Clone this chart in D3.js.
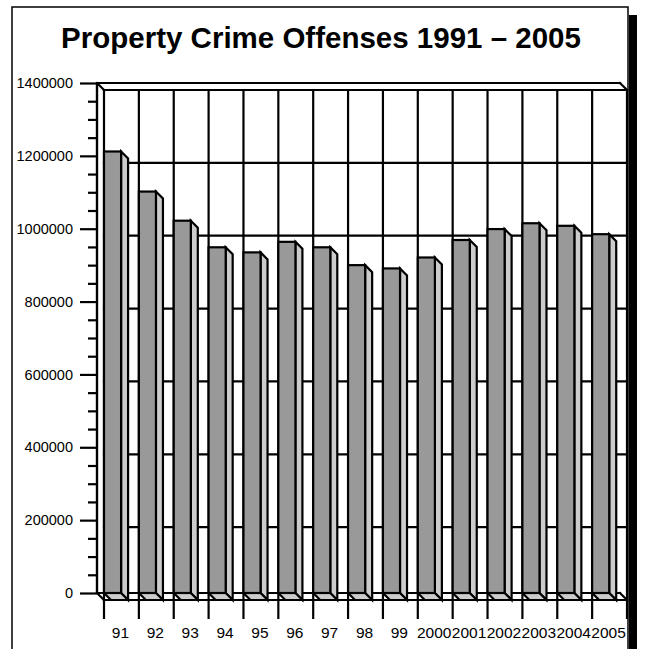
<!DOCTYPE html>
<html>
<head>
<meta charset="utf-8">
<script src="https://cdn.jsdelivr.net/npm/d3@7"></script>
<style>
  html, body { margin: 0; padding: 0; background: #fff; }
  svg { display: block; font-family: "Liberation Sans", Arial, sans-serif; }
</style>
</head>
<body>
<svg id="chart" width="647" height="649"></svg>
<script>
// Property crime offenses by year
const years = ["91","92","93","94","95","96","97","98","99","2000","2001","2002","2003","2004","2005"];
const offenses = [1212000, 1102000, 1022000, 949000, 935000, 964000, 949000, 900000, 891000, 921000, 969000, 999000, 1015000, 1008000, 985000];
const yTicks = [0, 200000, 400000, 600000, 800000, 1000000, 1200000, 1400000];
const titleText = "Property Crime Offenses 1991 \u2013 2005";

const svg = d3.select("#chart");

// plot geometry (front plane) and 3-D depth offset
const plotL = 97, plotR = 620, plotT = 83, plotB = 593;
const depth = 7;

const x = d3.scaleBand().domain(years).range([plotL, plotR]).padding(0);
const y = d3.scaleLinear().domain([0, 1400000]).range([plotB, plotT]);
const bw = x.bandwidth();
const barW = bw * 0.49;

// outer frame
svg.append("rect").attr("x", 12).attr("y", 7).attr("width", 616).attr("height", 660)
  .attr("fill", "#fff").attr("stroke", "#000").attr("stroke-width", 1.5);

// title
svg.append("text").attr("x", 321).attr("y", 48).attr("text-anchor", "middle")
  .attr("font-size", 29.5).attr("font-weight", "bold").text(titleText);

const g = svg.append("g").attr("stroke", "#000").attr("stroke-width", 2.2).attr("fill", "none")
  .attr("stroke-linecap", "square");

// back wall: horizontal gridlines
g.selectAll("line.hgrid").data(yTicks).join("line").attr("class", "hgrid")
  .attr("x1", plotL + depth).attr("x2", plotR + depth)
  .attr("y1", d => y(d) + depth).attr("y2", d => y(d) + depth);

// back wall: vertical gridlines at category boundaries
const bounds = years.map(d => x(d)).concat([plotR]);
g.selectAll("line.vgrid").data(bounds).join("line").attr("class", "vgrid")
  .attr("x1", d => d + depth).attr("x2", d => d + depth)
  .attr("y1", plotT + depth).attr("y2", plotB + depth);

// wall top rim and floor edges
g.append("line").attr("x1", plotL).attr("x2", plotR).attr("y1", plotT).attr("y2", plotT);
g.append("line").attr("x1", plotL).attr("y1", plotT).attr("x2", plotL + depth).attr("y2", plotT + depth);
g.append("line").attr("x1", plotR).attr("y1", plotT).attr("x2", plotR + depth).attr("y2", plotT + depth);
g.append("line").attr("x1", plotL).attr("x2", plotR).attr("y1", plotB).attr("y2", plotB);
g.append("line").attr("x1", plotL).attr("y1", plotB).attr("x2", plotL + depth).attr("y2", plotB + depth);
g.append("line").attr("x1", plotR).attr("y1", plotB).attr("x2", plotR + depth).attr("y2", plotB + depth);

// bars: front face, right side face and underside
const bars = svg.append("g").attr("stroke", "#000").attr("stroke-width", 2.2).attr("stroke-linejoin", "miter")
  .selectAll("g").data(years.map((d, i) => ({ year: d, value: offenses[i] }))).join("g");

bars.append("path").attr("fill", "#cccccc")
  .attr("d", d => {
    const x0 = x(d.year) + depth, x1 = x0 + barW, y0 = y(0), yv = y(d.value);
    return `M${x1},${yv}L${x1 + depth},${yv + depth}L${x1 + depth},${y0 + depth}L${x1},${y0}Z`;
  });
bars.append("path").attr("fill", "#cccccc")
  .attr("d", d => {
    const x0 = x(d.year) + depth, x1 = x0 + barW, y0 = y(0);
    return `M${x0},${y0}L${x1},${y0}L${x1 + depth},${y0 + depth}L${x0 + depth},${y0 + depth}Z`;
  });
bars.append("rect").attr("fill", "#999999")
  .attr("x", d => x(d.year) + depth).attr("width", barW)
  .attr("y", d => y(d.value)).attr("height", d => y(0) - y(d.value));

// value axis with major and minor ticks
const minor = d3.range(0, 1400001, 50000).filter(v => v % 200000 !== 0);
const yMinor = svg.append("g").attr("transform", `translate(${plotL},0)`)
  .call(d3.axisLeft(y).tickValues(minor).tickSize(9).tickFormat(""));
const yAxis = svg.append("g").attr("transform", `translate(${plotL},0)`)
  .call(d3.axisLeft(y).tickValues(yTicks).tickSize(17).tickPadding(7).tickFormat(d3.format("d")));
[yMinor, yAxis].forEach(a => {
  a.select(".domain").attr("stroke", "#000").attr("stroke-width", 2.2).attr("d", `M0,${plotT}V${plotB}`);
  a.selectAll(".tick line").attr("stroke", "#000").attr("stroke-width", 2.2);
});
yAxis.selectAll("text").attr("font-size", 14.5).attr("font-family", "Liberation Sans, Arial, sans-serif").attr("fill", "#000");

// category axis: tick marks at boundaries and labels
svg.append("g").attr("stroke", "#000").attr("stroke-width", 2.2)
  .selectAll("line").data(bounds).join("line")
  .attr("x1", d => d + depth).attr("x2", d => d + depth)
  .attr("y1", plotB + depth).attr("y2", plotB + depth + 19);

svg.append("g").selectAll("text").data(years).join("text")
  .attr("x", d => x(d) + depth + bw / 2 - 1).attr("y", 638)
  .attr("text-anchor", "middle").attr("font-size", 15.5).attr("fill", "#000")
  .text(d => d);

// drop shadow along the right edge of the frame
svg.append("rect").attr("x", 629).attr("y", 15).attr("width", 8).attr("height", 640).attr("fill", "#000");
</script>
</body>
</html>
